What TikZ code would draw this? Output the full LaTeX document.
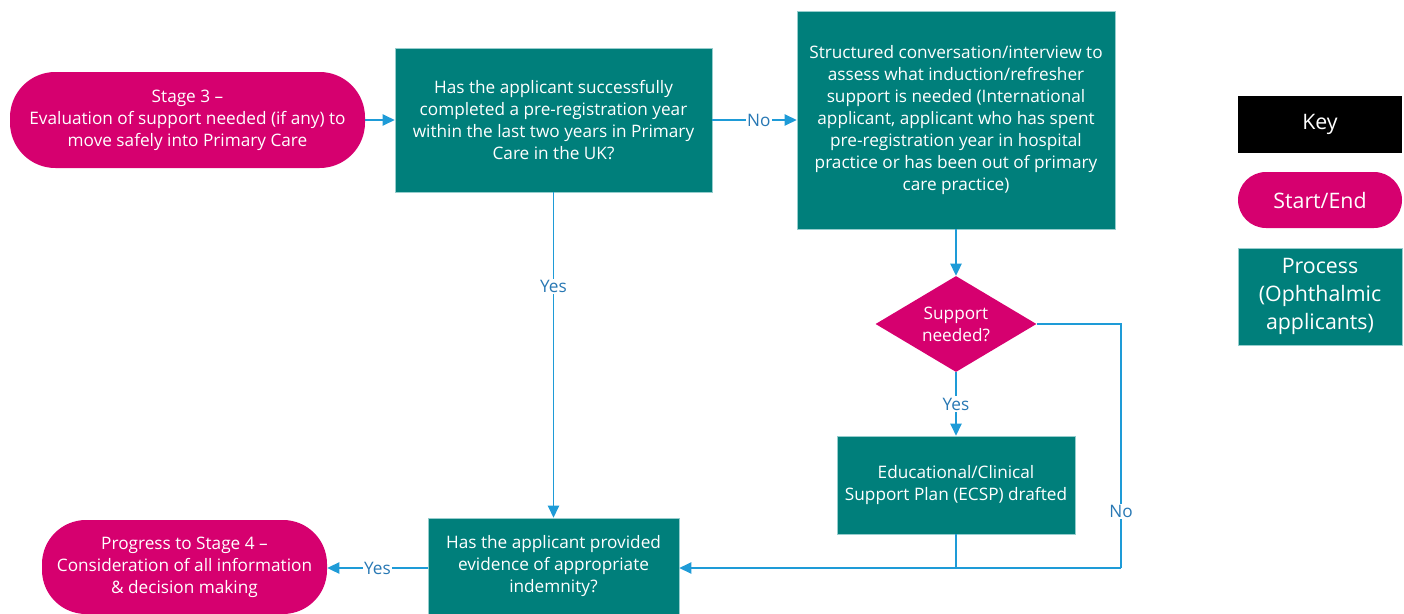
\documentclass[tikz,border=0pt]{standalone}
\usepackage{fontspec}
\setmainfont{Open Sans}
\usetikzlibrary{shapes.geometric,arrows.meta}
\definecolor{mag}{RGB}{214,0,111}
\definecolor{tealc}{RGB}{0,127,123}
\definecolor{lnc}{RGB}{30,155,215}
\definecolor{lbl}{RGB}{40,120,180}
\definecolor{edgec}{RGB}{150,205,205}
\tikzset{
  base/.style={text=white, align=center, inner sep=0pt, font=\fontsize{12.9}{16.6}\selectfont},
  proc/.style={base, rectangle, fill=tealc, draw=edgec, line width=0.5pt},
  pill/.style={base, rectangle, fill=mag, rounded corners=34pt},
  dec/.style={base, diamond, fill=mag, aspect=1.68, minimum width=120.75pt, minimum height=72pt},
  conn/.style={draw=lnc, line width=0.9pt, -{Triangle[length=9pt,width=8.5pt]}},
  plain/.style={draw=lnc, line width=0.9pt},
  lab/.style={fill=white, text=lbl, inner sep=1pt, font=\fontsize{12.9}{15}\selectfont},
  keytext/.style={font=\fontsize{16}{21}\selectfont}
}
\begin{document}
\begin{tikzpicture}[x=0.75pt,y=-0.75pt]
\useasboundingbox (0,0) rectangle (1404,614);
\node[pill, minimum width=266.25pt, minimum height=72pt] (start) at (187.5,120)
  {Stage 3 –\\Evaluation of support needed (if any) to\\move safely into Primary Care};
\node[proc, minimum width=237.75pt, minimum height=108pt] (b1) at (553.5,120)
  {Has the applicant successfully\\completed a pre-registration year\\within the last two years in Primary\\Care in the UK?};
\node[proc, minimum width=238.5pt, minimum height=163.5pt] (b2) at (956,120)
  {Structured conversation/interview to\\assess what induction/refresher\\support is needed (International\\applicant, applicant who has spent\\pre-registration year in hospital\\practice or has been out of primary\\care practice)};
\node[dec] (d) at (956,324) {Support\\needed?};
\node[proc, minimum width=178.5pt, minimum height=73.5pt] (b3) at (956,485)
  {Educational/Clinical\\Support Plan (ECSP) drafted};
\node[proc, minimum width=188.25pt, minimum height=72pt] (b4) at (553.5,566)
  {Has the applicant provided\\evidence of appropriate\\indemnity?};
\node[pill, minimum width=213.75pt, minimum height=70.5pt, rounded corners=33pt] (end) at (184.5,567)
  {Progress to Stage 4 –\\Consideration of all information\\\& decision making};
% key
\node[base, fill=black, minimum width=123pt, minimum height=42.75pt, keytext] (k1) at (1320,124.5) {Key};
\node[pill, minimum width=123pt, minimum height=42pt, rounded corners=21pt, keytext] (k2) at (1320,200) {Start/End};
\node[proc, minimum width=123pt, minimum height=72.75pt, keytext] (k3) at (1320,296.5) {Process\\(Ophthalmic\\applicants)};
% connectors
\coordinate (c1) at (1121,324);
\coordinate (c2) at (1121,568);
\coordinate (c3) at (956,568);
\draw[conn] (start.east) -- (b1.west);
\draw[conn] (b1.east) -- node[lab, pos=0.55]{No} (b2.west);
\draw[conn] (b2.south) -- (d.north);
\draw[conn] (d.south) -- node[lab]{Yes} (b3.north);
\draw[conn] (b1.south) -- node[lab, pos=0.29]{Yes} (b4.north);
\draw[plain] (b3.south) -- (c3);
\draw[plain] (d.east) -- (c1) -- node[lab, pos=0.77]{No} (c2);
\draw[conn] (c2) -- (b4.east |- c2);
\draw[conn] (b4.west |- c2) -- node[lab]{Yes} (end.east |- c2);
\end{tikzpicture}
\end{document}
